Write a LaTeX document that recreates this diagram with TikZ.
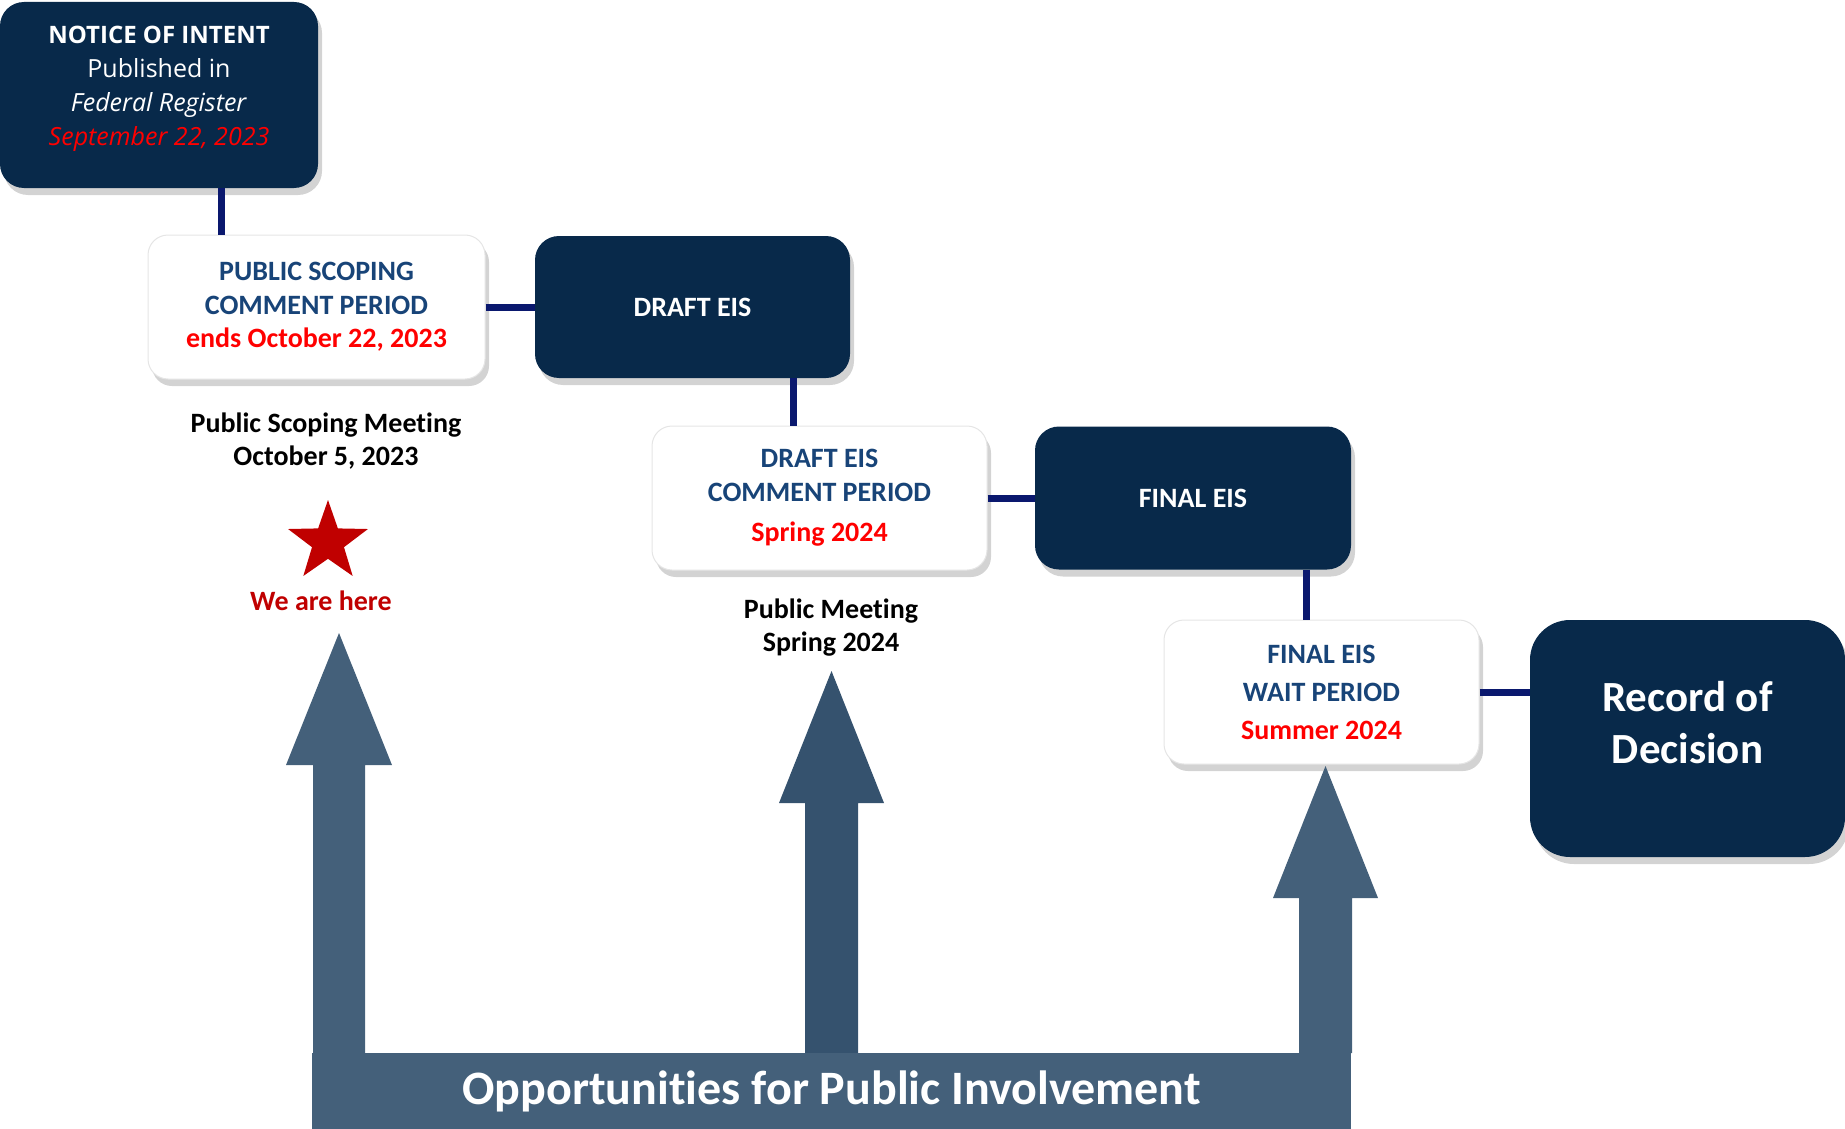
\documentclass[tikz,border=0pt]{standalone}
\usepackage{fontspec}
\setmainfont[Ligatures=NoCommon]{Carlito}
\newfontfamily\noifont{Open Sans}
\usetikzlibrary{shapes.geometric,shadows}

\definecolor{navybox}{RGB}{8,41,74}
\definecolor{linkblue}{RGB}{10,24,110}
\definecolor{titleblue}{RGB}{24,68,120}
\definecolor{datered}{RGB}{255,0,0}
\definecolor{herered}{RGB}{192,0,0}
\definecolor{slate}{RGB}{68,96,122}
\definecolor{slatedark}{RGB}{53,82,110}

\tikzset{
	boxshadow/.style={drop shadow={opacity=0.35,shadow xshift=4pt,shadow yshift=-7pt}},
	darkbox/.style={shape=rectangle,rounded corners=24pt,fill=navybox,text=white,inner sep=0pt,align=center,boxshadow},
	lightbox/.style={shape=rectangle,rounded corners=20pt,fill=white,draw=black!10,line width=1pt,text=titleblue,inner sep=0pt,align=center,boxshadow,font=\bfseries\fontsize{28}{33.5}\selectfont},
	link/.style={draw=linkblue,line width=7pt},
	meeting/.style={align=center,font=\bfseries\fontsize{28}{33}\selectfont}
}

\begin{document}
\begin{tikzpicture}[x=1pt,y=-1pt]
			\useasboundingbox (0,0) rectangle (1845,1129);

			% steps
			\node[darkbox,font=\noifont\fontsize{25}{34}\selectfont,minimum width=318pt,minimum height=186pt] (noi) at (159,95) {{\fontsize{24}{34}\selectfont\textbf{NOTICE OF INTENT}}\\Published in\\\textit{Federal Register}\\\textcolor{datered}{\textit{September 22, 2023}}\\[-16pt]};
			\node[lightbox,minimum width=337pt,minimum height=144pt] (scoping) at (316.5,307) {PUBLIC SCOPING\\COMMENT PERIOD\\\textcolor{datered}{ends October 22, 2023}};
			\node[darkbox,font=\bfseries\fontsize{28}{33}\selectfont,minimum width=315pt,minimum height=142pt] (draft) at (692.5,307) {DRAFT EIS};
			\node[lightbox,minimum width=335pt,minimum height=144pt] (draftcom) at (819.5,498) {DRAFT EIS\\COMMENT PERIOD\\[7pt]\textcolor{datered}{Spring 2024}};
			\node[darkbox,font=\bfseries\fontsize{28}{33}\selectfont,minimum width=316pt,minimum height=143pt] (final) at (1193,498) {FINAL EIS};
			\node[lightbox,font=\bfseries\fontsize{28}{38}\selectfont,minimum width=315pt,minimum height=144pt] (wait) at (1321.5,692) {FINAL EIS\\WAIT PERIOD\\\textcolor{datered}{Summer 2024}};
			\node[darkbox,rounded corners=40pt,font=\bfseries\fontsize{43}{52}\selectfont,minimum width=315pt,minimum height=237pt] (rod) at (1687.5,738.5) {Record of\\Decision\\[-20pt]};

			% connectors
			\path [link] ([xshift=62pt]noi.south) edge ([xshift=62pt]noi.south |- scoping.north);
			\path [link] (scoping.east) edge (draft.west);
			\path [link] ([xshift=100.5pt]draft.south) edge ([xshift=100.5pt]draft.south |- draftcom.north);
			\path [link] (draftcom.east) edge (final.west);
			\path [link] ([xshift=113pt]final.south) edge ([xshift=113pt]final.south |- wait.north);
			\path [link] (wait.east) edge (wait.east -| rod.west);

			% meetings
			\node[meeting] (scopemeet) at (326,441) {Public Scoping Meeting\\October 5, 2023};
			\node[shape=star,star points=5,star point ratio=2.5,fill=herered,inner sep=0pt,minimum size=84pt] (star) at (328,542) {};
			\node[meeting,text=herered] (here) at (321,601) {We are here};
			\node[meeting] (pubmeet) at (831,628) {Public Meeting\\Spring 2024};

			% opportunities
			\fill[slate] (313,1053) -- (313,765) -- (286,765) -- (339,633) -- (392,765) -- (365,765) -- (365,1053) -- cycle;
			\fill[slatedark] (805,1053) -- (805,803) -- (779,803) -- (831.5,671) -- (884,803) -- (858,803) -- (858,1053) -- cycle;
			\fill[slate] (1299,1053) -- (1299,898) -- (1273,898) -- (1325.5,766) -- (1378,898) -- (1352,898) -- (1352,1053) -- cycle;
			\node[shape=rectangle,fill=slate,text=white,inner sep=0pt,minimum width=1039pt,minimum height=76pt,font=\bfseries\fontsize{48}{52}\selectfont] (banner) at (831.5,1091) {\raisebox{-4pt}{Opportunities for Public Involvement}};

		\end{tikzpicture}
\end{document}
